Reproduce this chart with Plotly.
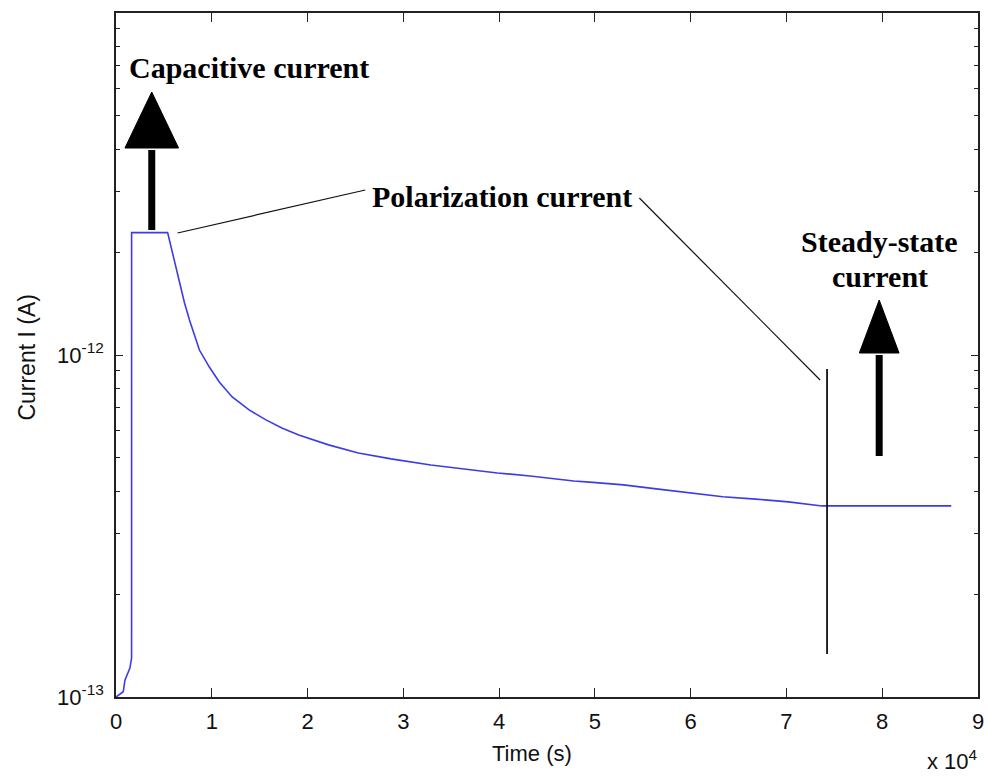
import plotly.graph_objects as go

# ---- data ----
time_s = [0, 757, 933, 1451, 1627, 1630, 5392, 6014, 6636, 7155, 7673, 8710,
          9747, 10784, 12132, 13895, 15657, 17317, 19079, 22190, 25301, 28722,
          32870, 36396, 39817, 43239, 47802, 49461, 52986, 56408, 59830, 63356,
          66778, 70199, 73725, 87206]
current_A = [1.0e-13, 1.036e-13, 1.12e-13, 1.215e-13, 1.30e-13, 2.28e-12,
             2.28e-12, 1.934e-12, 1.624e-12, 1.419e-12, 1.266e-12, 1.034e-12,
             9.22e-13, 8.34e-13, 7.54e-13, 6.91e-13, 6.46e-13, 6.12e-13,
             5.84e-13, 5.46e-13, 5.17e-13, 4.97e-13, 4.77e-13, 4.64e-13,
             4.52e-13, 4.43e-13, 4.28e-13, 4.25e-13, 4.17e-13, 4.06e-13,
             3.95e-13, 3.85e-13, 3.79e-13, 3.72e-13, 3.62e-13, 3.62e-13]

x_tickvals = [0, 10000, 20000, 30000, 40000, 50000, 60000, 70000, 80000, 90000]
x_ticktext = ["0", "1", "2", "3", "4", "5", "6", "7", "8", "9"]
y_tickvals = [1e-13, 1e-12, 1e-11]
y_ticktext = ["10<sup>-13</sup>", "10<sup>-12</sup>", ""]
y_minor = [m * 1e-13 for m in range(2, 10)] + [m * 1e-12 for m in range(2, 10)]

# ---- layout geometry (pixels of the 990x779 page) ----
W, H = 990, 779
L, R, T, B = 116, 984, 13, 697


def px(x):
    return (x - L) / (R - L)


def py(y):
    return (B - y) / (B - T)


fig = go.Figure()
fig.add_trace(go.Scatter(x=time_s, y=current_A, mode="lines",
                         line=dict(color="#3c3ce6", width=1.6),
                         showlegend=False, hoverinfo="skip"))

axis_font = dict(family="Liberation Sans, Arial, sans-serif", size=22, color="#111")

fig.update_layout(
    width=W, height=H,
    margin=dict(l=L, r=W - R, t=T, b=H - B),
    paper_bgcolor="white", plot_bgcolor="white",
    font=axis_font,
    xaxis=dict(range=[0, 90000], tickvals=x_tickvals, ticktext=x_ticktext,
               ticks="inside", ticklen=9, tickwidth=1.3, tickcolor="#222",
               showline=True, linecolor="#222", linewidth=1.6, mirror="ticks",
               showgrid=False, zeroline=False, tickfont=axis_font,
               ticklabelstandoff=4),
    yaxis=dict(type="log", range=[-13, -11], tickvals=y_tickvals, ticktext=y_ticktext,
               ticks="inside", ticklen=7, tickwidth=1.3, tickcolor="#222",
               showline=True, linecolor="#222", linewidth=1.6, mirror="ticks",
               showgrid=False, zeroline=False, tickfont=axis_font,
               ticklabelstandoff=6,
               minor=dict(tickvals=y_minor, ticks="inside", ticklen=4,
                          tickwidth=1.3, tickcolor="#222", showgrid=False)),
)

# axis titles and multiplier as text
fig.add_annotation(x=px(535), y=py(753), xref="paper", yref="paper",
                   text="Time (s)", showarrow=False, font=axis_font,
                   xanchor="center", yanchor="middle")
fig.add_annotation(x=px(26), y=py(357), xref="paper", yref="paper",
                   text="Current I (A)", showarrow=False,
                   font=dict(family="Liberation Sans, Arial, sans-serif", size=23, color="#111"),
                   textangle=-90, xanchor="center", yanchor="middle")
fig.add_annotation(x=px(986), y=py(760), xref="paper", yref="paper",
                   text="x 10<sup>4</sup>", showarrow=False, font=axis_font,
                   xanchor="right", yanchor="middle")

label_font = dict(family="Liberation Serif, Times New Roman, serif", size=30, color="black")
for txt, cx, cy in [("<b>Capacitive current</b>", 250, 67),
                    ("<b>Polarization current</b>", 505, 196),
                    ("<b>Steady-state</b>", 885, 242),
                    ("<b>current</b>", 885, 276)]:
    fig.add_annotation(x=px(cx), y=py(cy), xref="paper", yref="paper", text=txt,
                       showarrow=False, font=label_font,
                       xanchor="center", yanchor="middle")

# thick arrows (shaft + triangular head)
for sx, y_bot, y_base, y_tip, half in [(152, 230, 148, 92, 27), (884.5, 456, 353, 300, 20)]:
    fig.add_shape(type="line", xref="paper", yref="paper",
                  x0=px(sx), x1=px(sx), y0=py(y_bot), y1=py(y_base + 2),
                  line=dict(color="black", width=7))
    fig.add_shape(type="path", xref="paper", yref="paper",
                  path=f"M {px(sx - half)} {py(y_base)} L {px(sx + half)} {py(y_base)} "
                       f"L {px(sx)} {py(y_tip)} Z",
                  fillcolor="black", line=dict(color="black", width=1))

# leader lines
for x0, y0, x1, y1, w in [(178, 233, 367, 190, 1.2), (643, 198, 825, 380, 1.2),
                          (832, 369, 832, 654, 1.8)]:
    fig.add_shape(type="line", xref="paper", yref="paper",
                  x0=px(x0), y0=py(y0), x1=px(x1), y1=py(y1),
                  line=dict(color="#111", width=w))

fig.write_html("out.html")
